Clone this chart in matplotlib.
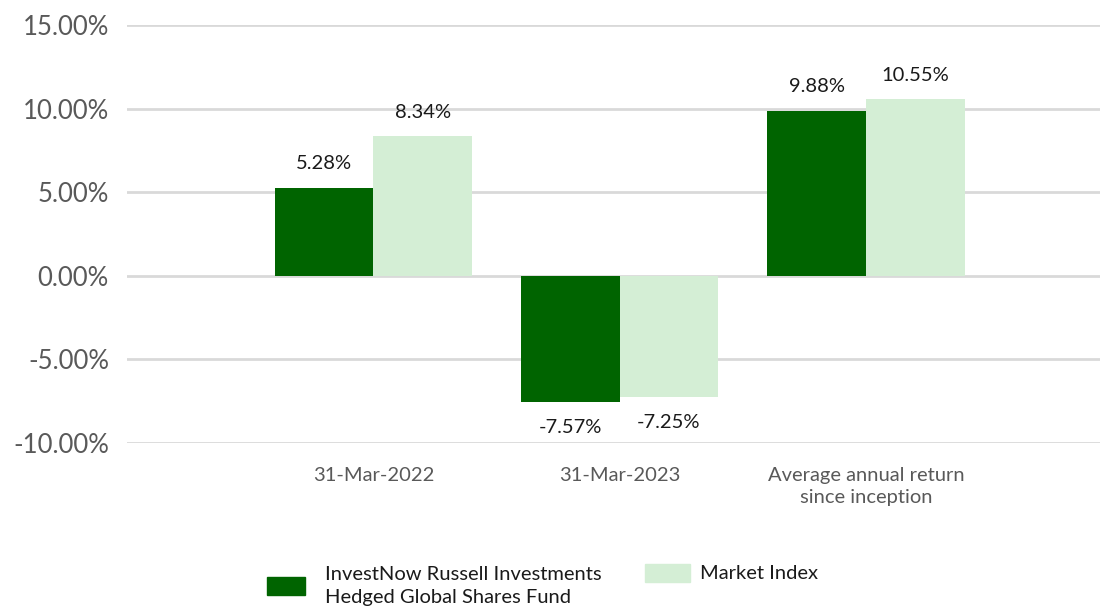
import matplotlib
matplotlib.use("Agg")
import matplotlib.pyplot as plt
from matplotlib.patches import Patch
import numpy as np

plt.rcParams['font.family'] = ['Lato', 'DejaVu Sans']

# data
categories = ['31-Mar-2022', '31-Mar-2023', 'Average annual return\nsince inception']
fund_returns = [5.28, -7.57, 9.88]
index_returns = [8.34, -7.25, 10.55]
fund_name = 'InvestNow Russell Investments\nHedged Global Shares Fund'
index_name = 'Market Index'
y_ticks = [-10, -5, 0, 5, 10, 15]

dark_green = '#006400'
light_green = '#d4eed5'

fig = plt.figure(figsize=(11.02, 6.10), dpi=100)
ax = fig.add_axes([127 / 1102, 1 - 443 / 610, (1100 - 127) / 1102, (443 - 25) / 610])

x = np.arange(len(categories))
width = 0.4
bars_fund = ax.bar(x - width / 2, fund_returns, width, color=dark_green, zorder=3)
bars_index = ax.bar(x + width / 2, index_returns, width, color=light_green, zorder=3)

# value labels above / below each bar
for bars in (bars_fund, bars_index):
    for b in bars:
        v = b.get_height()
        off = 24 if v >= 0 else -25
        ax.annotate(f'{v:.2f}%', (b.get_x() + b.get_width() / 2, v),
                    xytext=(0, off), textcoords='offset pixels',
                    ha='center', va='center', fontsize=14.5, color='#1a1a1a')

ax.set_ylim(-10, 15)
ax.set_xlim(-1, 2.95)
ax.set_yticks(y_ticks)
ax.set_yticklabels([f'{t:.2f}%' for t in y_ticks], fontsize=18.5, color='#595959')
ax.set_xticks(x)
ax.set_xticklabels(categories, fontsize=14.5, color='#595959', linespacing=1.35)
ax.tick_params(axis='both', length=0)
ax.tick_params(axis='y', pad=13)
ax.tick_params(axis='x', pad=17)
ax.xaxis.set_ticks_position('none')

ax.grid(axis='y', color='#d9d9d9', linewidth=2, zorder=0)
for s in ax.spines.values():
    s.set_visible(False)

# legend, one box per entry so they sit like the reference
leg1 = fig.legend(handles=[Patch(color=dark_green)], labels=[fund_name],
                  loc='center left', bbox_to_anchor=(267 / 1102, 1 - 586 / 610),
                  frameon=False, handlelength=1.9, handleheight=1.0,
                  handletextpad=1.0, borderpad=0, borderaxespad=0,
                  labelcolor='#1a1a1a', prop={'size': 14.5})
for t in leg1.get_texts():
    t.set_linespacing(1.4)
leg2 = fig.legend(handles=[Patch(color=light_green)], labels=[index_name],
                  loc='center left', bbox_to_anchor=(645 / 1102, 1 - 573 / 610),
                  frameon=False, handlelength=2.25, handleheight=1.0,
                  handletextpad=0.5, borderpad=0, borderaxespad=0,
                  labelcolor='#1a1a1a', prop={'size': 14.5})

fig.savefig('out.png', dpi=100)
